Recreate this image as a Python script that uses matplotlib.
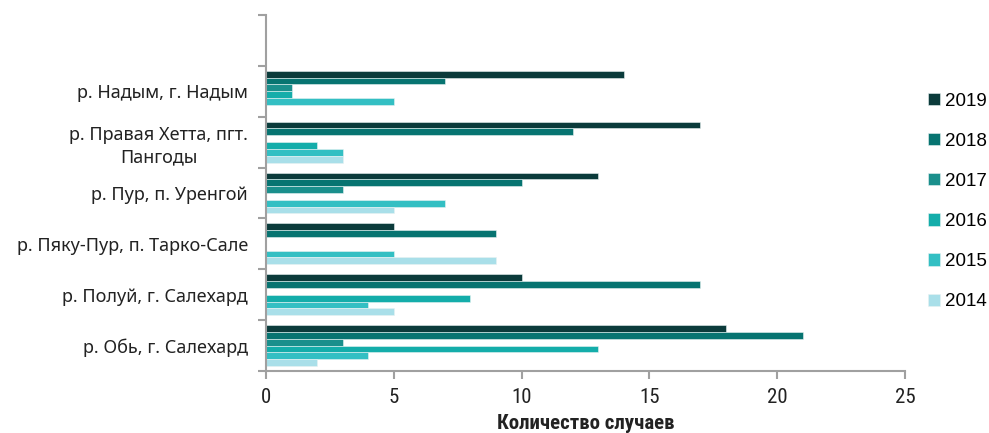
import matplotlib
matplotlib.use("Agg")
import matplotlib.pyplot as plt
import numpy as np
from matplotlib.ticker import FixedLocator, NullFormatter
from matplotlib import font_manager as fm

categories = ["р. Надым, г. Надым", "р. Правая Хетта, пгт.\nПангоды", "р. Пур, п. Уренгой",
              "р. Пяку-Пур, п. Тарко-Сале", "р. Полуй, г. Салехард", "р. Обь, г. Салехард"]
years = ["2019", "2018", "2017", "2016", "2015", "2014"]
values = {
    "2019": [14, 17, 13, 5, 10, 18],
    "2018": [7, 12, 10, 9, 17, 21],
    "2017": [1, 0, 3, 0, 0, 3],
    "2016": [1, 2, 0, 0, 8, 13],
    "2015": [5, 3, 7, 5, 4, 4],
    "2014": [0, 3, 5, 9, 5, 2],
}
colors = ["#0b3b3b", "#077471", "#1a8f8c", "#14adaa", "#33bfc3", "#a9dfe9"]
xticks = [0, 5, 10, 15, 20, 25]
xlabel = "Количество случаев"

names = {f.name for f in fm.fontManager.ttflist}
narrow = None
for cand in ["Roboto Condensed", "Liberation Sans Narrow", "Open Sans Condensed",
             "DejaVu Sans Condensed"]:
    if cand in names:
        narrow = cand
        break
if narrow is None:
    narrow = "DejaVu Sans"
    tick_fs, lab_fs = 14, 13
else:
    tick_fs, lab_fs = 15, 15

fig = plt.figure(figsize=(9.89, 4.33), dpi=100)
ax = fig.add_axes([0.269, 0.1432, 0.646, 0.8222])

n = len(categories)
centers = np.arange(n)[::-1] + 0.5
h = 0.134
for i, (yr, col) in enumerate(zip(years, colors)):
    off = (2.5 - i) * h
    ax.barh(centers + off, values[yr], height=h, color=col, label=yr,
            edgecolor="#e8f2f2", linewidth=0.4)

ax.set_xlim(0, 25)
ax.set_ylim(0, 7)
ax.set_xticks(xticks)
ax.set_xticklabels([str(t) for t in xticks], fontsize=tick_fs, family=narrow, color="#222222")
ax.set_yticks(centers)
ax.set_yticklabels(categories, fontsize=13, family="Noto Sans", color="#222222",
                   linespacing=1.3)
for lab in ax.get_yticklabels():
    lab.set_multialignment("center")
ax.tick_params(axis="y", which="major", length=0, pad=13)
ax.yaxis.set_minor_locator(FixedLocator(np.arange(0, 8)))
ax.yaxis.set_minor_formatter(NullFormatter())
ax.tick_params(axis="y", which="minor", length=6, width=1.5, color="#a0a0a0")
ax.tick_params(axis="x", which="major", length=6, width=1.5, color="#a0a0a0", pad=6)

for s in ["top", "right"]:
    ax.spines[s].set_visible(False)
for s in ["left", "bottom"]:
    ax.spines[s].set_color("#a0a0a0")
    ax.spines[s].set_linewidth(1.5)

ax.set_xlabel(xlabel, fontsize=lab_fs, fontweight="bold", family=narrow,
              color="#222222", labelpad=5)

leg = fig.legend(loc="upper left", bbox_to_anchor=(0.9383, 0.7855), frameon=False,
                 handlelength=0.62, handleheight=0.62, borderpad=0,
                 handletextpad=0.28, labelspacing=1.23, borderaxespad=0,
                 prop={"family": "Liberation Sans", "size": 13.5})

fig.savefig("out.png", dpi=100)
